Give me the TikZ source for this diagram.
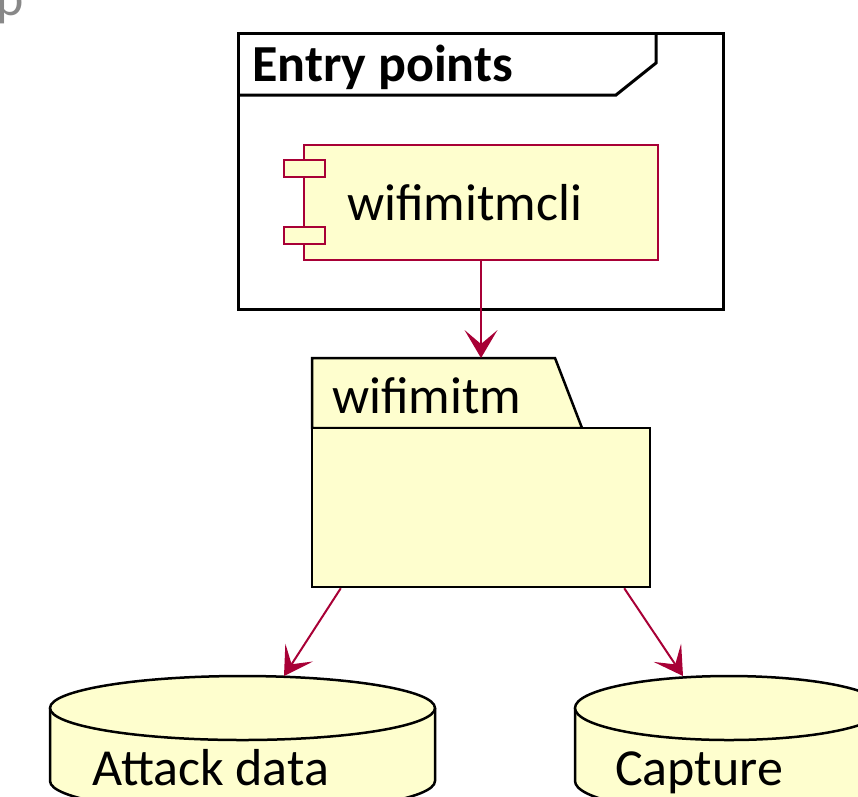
\documentclass[tikz,border=0pt]{standalone}
\usepackage{fontspec}
\setmainfont{Carlito}
\usetikzlibrary{calc}
\definecolor{umlred}{HTML}{A80036}
\definecolor{umlfill}{HTML}{FEFECE}
\definecolor{titlegray}{HTML}{888888}

% Database cylinder: #1 centre x, #2 horizontal radius
\newcommand{\umldb}[2]{%
  \begin{scope}[shift={(#1,0)}]
    \path[fill=umlfill] (-#2,708) -- (-#2,781)
      .. controls (-#2,798.7) and ({-0.552*#2},813) .. (0,813)
      .. controls ({0.552*#2},813) and (#2,798.7) .. (#2,781)
      -- (#2,708) -- cycle;
    \draw[dbline] (-#2,708) -- (-#2,781)
      .. controls (-#2,798.7) and ({-0.552*#2},813) .. (0,813)
      .. controls ({0.552*#2},813) and (#2,798.7) .. (#2,781)
      -- (#2,708);
    \draw[dbline, fill=umlfill] (0,708) ellipse [x radius=#2, y radius=32];
  \end{scope}}

% Dependency arrow with a notched filled head: #1 start, #2 tip
\newcommand{\umldep}[2]{%
  \draw[depline] (#1) -- ($(#2)!13pt!(#1)$);
  \fill[umlred] (#2)
    -- ($($(#2)!28pt!(#1)$)!16.5pt!90:(#2)$)
    -- ($(#2)!14pt!(#1)$)
    -- ($($(#2)!28pt!(#1)$)!16.5pt!-90:(#2)$)
    -- cycle;}

\begin{document}
\begin{tikzpicture}[x=1pt,y=-1pt,
  big/.style={font=\fontsize{52}{62}\selectfont, inner sep=0pt, anchor=base west},
  bigbold/.style={big, font=\fontsize{52}{62}\selectfont\bfseries},
  framebox/.style={draw=black, line width=3pt, rectangle, inner sep=0pt},
  compbox/.style={draw=umlred, fill=umlfill, line width=2pt, rectangle, inner sep=0pt},
  pkgbox/.style={draw=black, fill=umlfill, line width=2.5pt, rectangle, inner sep=0pt},
  pkgline/.style={draw=black, fill=umlfill, line width=2.5pt, line join=miter},
  dbline/.style={draw=black, line width=2.5pt},
  depline/.style={draw=umlred, line width=2pt}
]
\useasboundingbox (0,0) rectangle (858,796);
\clip (0,0) rectangle (858,796);

% title fragment
\node[big, text=titlegray] (ttl) at (-4,15) {p};

% frame "Entry points"
\node[framebox, minimum width=485pt, minimum height=276pt] (entry) at (480.5,171) {};
\draw[line width=3pt, line join=miter] (238,95) -- (616,95) -- (656,63) -- (656,33);
\node[bigbold] (entrytitle) at (252,81) {Entry points};

% component wifimitmcli
\node[compbox, minimum width=354pt, minimum height=115pt] (cli) at (481,202.5) {};
\node[compbox, minimum width=41pt, minimum height=17pt] (port1) at (304.5,168.5) {};
\node[compbox, minimum width=41pt, minimum height=17pt] (port2) at (304.5,235.5) {};
\node[big] (clilabel) at (347,220) {wifimitmcli};

% package wifimitm
\draw[pkgline] (312,428) -- (312,358) -- (555,358) -- (582,428) -- cycle;
\node[pkgbox, minimum width=338pt, minimum height=159pt] (pkg) at (481,507.5) {};
\node[big] (pkglabel) at (332,413) {wifimitm};
\coordinate (pkgtop) at (481,358);

% databases
\umldb{242.5}{192.5}
\umldb{729}{154}
\node[big] (attackdata) at (92,785) {Attack data};
\node[big] (capture) at (615,785) {Capture};
\coordinate (adtop) at (284,676);
\coordinate (captop) at (683,676);

% dependencies
\coordinate (pkgsw) at ([xshift=30pt]pkg.south west);
\coordinate (pkgse) at ([xshift=-27pt]pkg.south east);
\umldep{cli.south}{pkgtop}
\umldep{pkgsw}{adtop}
\umldep{pkgse}{captop}
\end{tikzpicture}
\end{document}
